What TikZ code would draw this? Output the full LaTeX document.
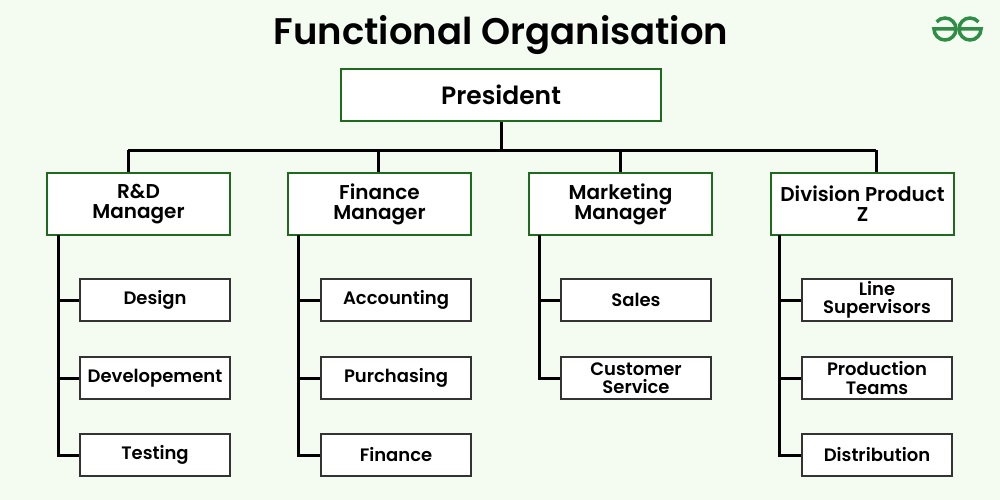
\documentclass[tikz,border=0pt]{standalone}
\usepackage{fontspec}
\setmainfont{Poppins}[BoldFont={* SemiBold}]
\definecolor{bg}{HTML}{F4FCF2}
\definecolor{gk}{HTML}{1E6B1E}
\definecolor{logo}{HTML}{2F8D46}
\begin{document}
\begin{tikzpicture}[x=1pt,y=-1pt,
  mgr/.style={draw=gk,line width=2.5pt,fill=white,minimum width=183pt,minimum height=62pt,align=center,font=\fontsize{20}{20}\selectfont\bfseries,inner sep=0pt},
  sub/.style={draw=black!80,line width=2.5pt,fill=white,minimum width=150pt,minimum height=42pt,align=center,font=\fontsize{18}{18.5}\selectfont\bfseries,inner sep=0pt},
  con/.style={line width=3pt,black}]
\fill[bg] (0,0) rectangle (1000,500);
\useasboundingbox (0,0) rectangle (1000,500);
\node (title) at (501,35) {\fontsize{37}{40}\selectfont\bfseries Functional Organisation};
\begin{scope}[line width=3.5pt,logo]
\draw (959,29) -- (981,29) arc[start angle=0,end angle=320,radius=11];
\draw (956,29) -- (934,29) arc[start angle=180,end angle=-140,radius=11];
\end{scope}
\node[mgr,minimum width=320pt,minimum height=52pt,font=\fontsize{25}{26}\selectfont\bfseries] (pres) at (501,95) {President};
\coordinate (bus) at (501,150);
\node[mgr] (m1) at (138.5,204) {R\&D\\Manager};
\node[mgr] (m2) at (379.5,204) {Finance\\Manager};
\node[mgr] (m3) at (620.5,204) {Marketing\\Manager};
\node[mgr] (m4) at (862.5,204) {Division Product\\Z};
\coordinate (b1) at (128,150); \coordinate (b2) at (378,150);
\coordinate (b3) at (620,150); \coordinate (b4) at (876,150);
\draw[con] (pres.south) -- (bus);
\draw[con] (b1) -- (b4);
\draw[con] (b1) -- (b1 |- m1.north);
\draw[con] (b2) -- (b2 |- m2.north);
\draw[con] (b3) -- (b3 |- m3.north);
\draw[con] (b4) -- (b4 |- m4.north);
% subs
\node[sub] (s11) at (155,300) {Design};
\node[sub] (s12) at (155,378) {Developement};
\node[sub] (s13) at (155,455) {Testing};
\node[sub] (s21) at (396,300) {Accounting};
\node[sub] (s22) at (396,378) {Purchasing};
\node[sub] (s23) at (396,455) {Finance};
\node[sub] (s31) at (636,300) {Sales};
\node[sub] (s32) at (636,378) {Customer\\Service};
\node[sub] (s41) at (877,300) {Line\\Supervisors};
\node[sub] (s42) at (877,378) {Production\\Teams};
\node[sub] (s43) at (877,455) {Distribution};
\coordinate (v1) at (58,235); \coordinate (v2) at (298,235);
\coordinate (v3) at (539,235); \coordinate (v4) at (779,235);
\draw[con] (v1) -- (v1 |- s13.west) -- (s13.west);
\draw[con] (v1 |- s11.west) -- (s11.west);
\draw[con] (v1 |- s12.west) -- (s12.west);
\draw[con] (v2) -- (v2 |- s23.west) -- (s23.west);
\draw[con] (v2 |- s21.west) -- (s21.west);
\draw[con] (v2 |- s22.west) -- (s22.west);
\draw[con] (v3) -- (v3 |- s32.west) -- (s32.west);
\draw[con] (v3 |- s31.west) -- (s31.west);
\draw[con] (v4) -- (v4 |- s43.west) -- (s43.west);
\draw[con] (v4 |- s41.west) -- (s41.west);
\draw[con] (v4 |- s42.west) -- (s42.west);
\end{tikzpicture}
\end{document}
